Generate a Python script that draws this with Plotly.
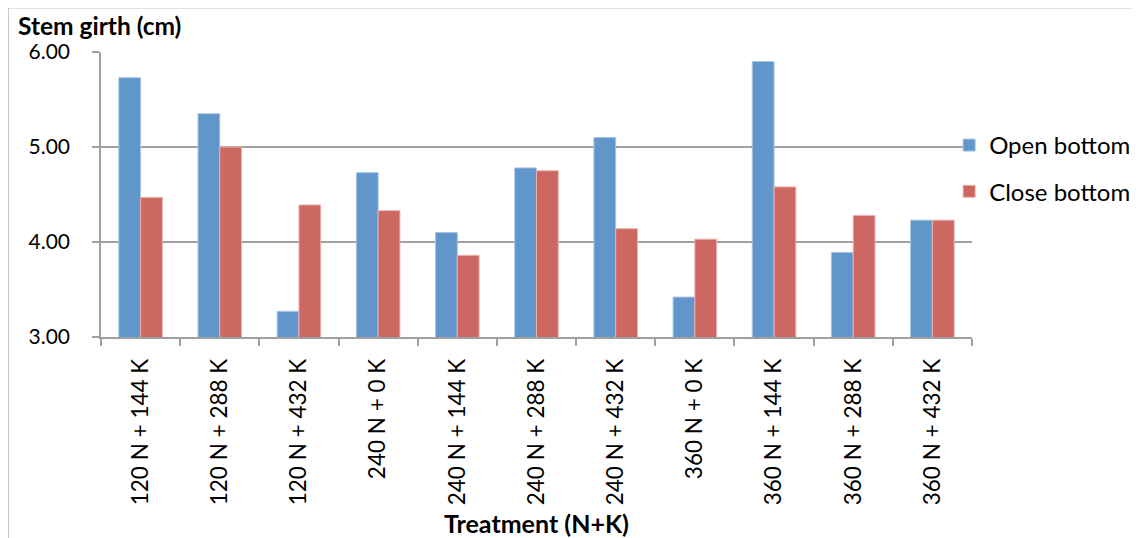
import plotly.graph_objects as go

categories = ["120 N + 144 K", "120 N + 288 K", "120 N + 432 K", "240 N + 0 K",
              "240 N + 144 K", "240 N + 288 K", "240 N + 432 K", "360 N + 0 K",
              "360 N + 144 K", "360 N + 288 K", "360 N + 432 K"]
open_bottom = [5.73, 5.35, 3.27, 4.73, 4.10, 4.78, 5.10, 3.42, 5.90, 3.89, 4.23]
close_bottom = [4.47, 5.00, 4.39, 4.33, 3.86, 4.75, 4.14, 4.03, 4.58, 4.28, 4.23]
y_ticks = [3, 4, 5, 6]
y_tick_text = ["3.00", "4.00", "5.00", "6.00"]

FONT = "Lato, 'Open Sans', sans-serif"
W, H = 1140, 538
OFF = 8  # page body margin offset
# target plot area in screenshot pixels: x 101..977, y 52..337
L = 101 - OFF
T = 52 - OFF
R = W - (977 - OFF)
B = H - (337 - OFF)
PW, PH = W - L - R, H - T - B


def px_to_paper_x(px):
    return (px - OFF - L) / PW


def px_to_paper_y(py):
    return (H - B - (py - OFF)) / PH


fig = go.Figure()
fig.add_trace(go.Bar(x=categories, y=open_bottom, name="Open bottom",
                     marker=dict(color="#6196CB", line=dict(color="#A9C4E3", width=1)),
                     legendgroup="a"))
fig.add_trace(go.Bar(x=categories, y=close_bottom, name="Close bottom",
                     marker=dict(color="#CD6761", line=dict(color="#E8B3B0", width=1)),
                     legendgroup="b"))

fig.update_layout(
    width=W, height=H,
    margin=dict(l=L, r=R, t=T, b=B),
    paper_bgcolor="white", plot_bgcolor="white",
    barmode="group", bargap=0.45, bargroupgap=0,
    font=dict(family=FONT, color="black", size=20),
    showlegend=True,
    legend=dict(x=px_to_paper_x(954), xanchor="left", y=px_to_paper_y(123), yanchor="top",
                font=dict(size=24, family=FONT), tracegroupgap=12,
                bgcolor="rgba(0,0,0,0)"),
    xaxis=dict(
        type="category", tickangle=-90, tickson="boundaries",
        ticks="outside", ticklen=7, tickcolor="#A0A0A0", tickwidth=1.5,
        showline=True, linecolor="#A0A0A0", linewidth=1.5,
        showgrid=False, tickfont=dict(size=22.5, family=FONT),
        ticklabelstandoff=11,
        title=dict(text="<b>Treatment (N+K)</b>", font=dict(size=25, family=FONT), standoff=11),
    ),
    yaxis=dict(
        range=[3, 6], tickvals=y_ticks, ticktext=y_tick_text,
        ticks="outside", ticklen=7, tickcolor="#A0A0A0", tickwidth=1.5,
        showline=True, linecolor="#A0A0A0", linewidth=1.5,
        showgrid=True, gridcolor="#A0A0A0", gridwidth=1.5,
        zeroline=False, tickfont=dict(size=21, family=FONT),
        ticklabelstandoff=18,
    ),
    annotations=[dict(
        text="<b>Stem girth (cm)</b>", xref="paper", yref="paper",
        x=px_to_paper_x(16), y=px_to_paper_y(26), xanchor="left", yanchor="middle",
        showarrow=False, font=dict(size=24.5, family=FONT),
    )],
    shapes=[dict(
        type="rect", xref="paper", yref="paper",
        x0=px_to_paper_x(8), x1=px_to_paper_x(1160),
        y0=px_to_paper_y(560), y1=px_to_paper_y(8),
        line=dict(color="#C8C8C8", width=1), fillcolor="rgba(0,0,0,0)", layer="below",
    )],
)

fig.write_html("out.html")
